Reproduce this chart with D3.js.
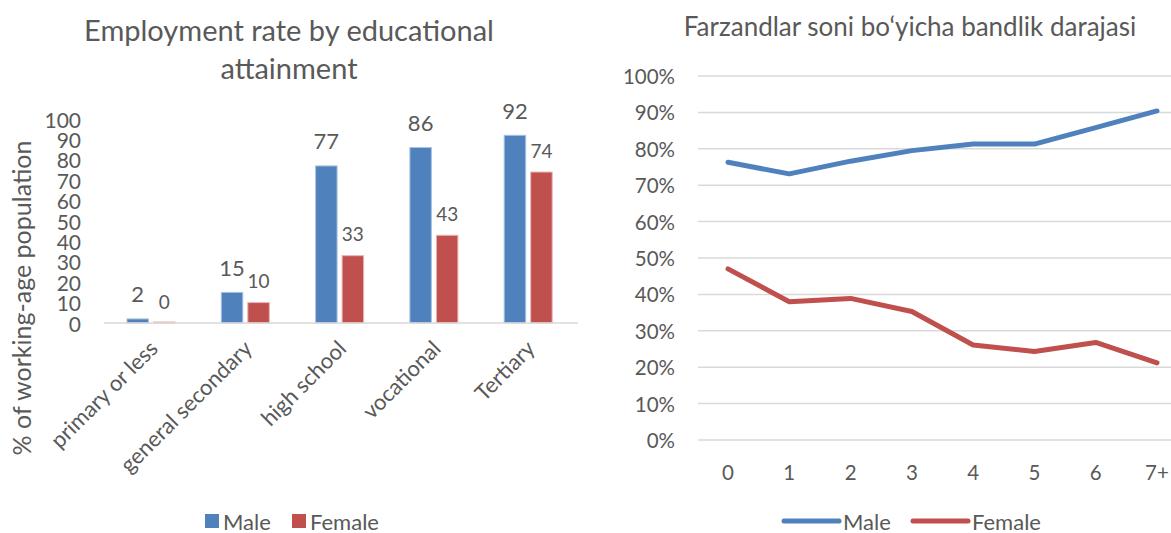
<!DOCTYPE html>
<head>
  <meta charset="utf-8">
  <script src="https://d3js.org/d3.v7.min.js"></script>
  <style>
    body { margin: 0; background: #fff; }
    text { font-family: Lato, "Open Sans", sans-serif; fill: #595959; }
  </style>
</head>
<body>
  <div class="chart"></div>
  <script>
    // left chart: employment by education
    var eduCats = ["primary or less", "general secondary", "high school", "vocational", "Tertiary"];
    var eduMale = [2, 15, 77, 86, 92];
    var eduFemale = [0, 10, 33, 43, 74];
    var eduTicks = [0, 10, 20, 30, 40, 50, 60, 70, 80, 90, 100];

    // right chart: employment by number of children
    var kidCats = ["0", "1", "2", "3", "4", "5", "6", "7+"];
    var kidMale = [0.763, 0.731, 0.766, 0.795, 0.813, 0.813, 0.858, 0.904];
    var kidFemale = [0.470, 0.380, 0.389, 0.353, 0.261, 0.243, 0.268, 0.212];
    var pctTicks = [0, 0.1, 0.2, 0.3, 0.4, 0.5, 0.6, 0.7, 0.8, 0.9, 1];

    var series = ["Male", "Female"];
    var colors = { Male: "#4F81BD", Female: "#C0504D" };

    (function() {
      var svg = d3.select(".chart")
        .append("svg")
        .attr("width", 1171)
        .attr("height", 533);

      // ---------- left: bars ----------
      var left = svg.append("g");

      left.append("text")
        .attr("x", 289).attr("y", 29)
        .attr("text-anchor", "middle").attr("dominant-baseline", "central")
        .style("font-size", "29px")
        .text("Employment rate by educational");
      left.append("text")
        .attr("x", 289).attr("y", 67)
        .attr("text-anchor", "middle").attr("dominant-baseline", "central")
        .style("font-size", "29px")
        .text("attainment");

      var x0 = d3.scaleBand().domain(eduCats).range([104, 575.5]);
      var x1 = d3.scaleBand().domain(series).range([23, 71]).paddingInner(0.19);
      var y = d3.scaleLinear().domain([0, 100]).range([323, 119]);

      left.selectAll(".ytick")
        .data(eduTicks)
        .enter().append("text")
        .attr("class", "ytick")
        .attr("x", 81)
        .attr("y", function(d) { return y(d) })
        .attr("text-anchor", "end")
        .attr("dominant-baseline", "central")
        .style("font-size", "21px")
        .text(function(d) { return d });

      left.append("text")
        .attr("transform", "translate(21,298) rotate(-90)")
        .attr("text-anchor", "middle")
        .attr("dominant-baseline", "central")
        .style("font-size", "25px")
        .text("% of working-age population");

      var rows = eduCats.map(function(c, i) {
        return { cat: c, Male: eduMale[i], Female: eduFemale[i] };
      });

      var groups = left.selectAll(".grp")
        .data(rows)
        .enter().append("g")
        .attr("class", "grp")
        .attr("transform", function(d) { return "translate(" + x0(d.cat) + ",0)" });

      groups.selectAll("rect")
        .data(function(d) { return series.map(function(s) { return { s: s, v: d[s] } }) })
        .enter().append("rect")
        .attr("x", function(d) { return x1(d.s) })
        .attr("width", x1.bandwidth())
        .attr("y", function(d) { return Math.min(y(d.v), y(0) - 1) })
        .attr("height", function(d) { return Math.max(y(0) - y(d.v), 1) })
        .attr("fill", function(d) { return d.v === 0 ? "#F2DCDB" : colors[d.s] })
        .attr("stroke", function(d) { return d.s === "Male" ? "#A9C0E0" : "#E6B3B2" })
        .attr("stroke-width", 1);

      groups.selectAll(".val")
        .data(function(d) { return series.map(function(s) { return { s: s, v: d[s] } }) })
        .enter().append("text")
        .attr("class", "val")
        .attr("x", function(d) { return x1(d.s) + x1.bandwidth() / 2 })
        .attr("y", function(d) { return y(d.v) - (d.s === "Male" ? 25 : 22) })
        .attr("text-anchor", "middle")
        .attr("dominant-baseline", "central")
        .style("font-size", function(d) { return d.s === "Male" ? "22px" : "19px" })
        .text(function(d) { return d.v });

      left.append("line")
        .attr("x1", 104).attr("x2", 578)
        .attr("y1", y(0)).attr("y2", y(0))
        .attr("stroke", "#D9D9D9").attr("stroke-width", 1.5);

      left.selectAll(".xlab")
        .data(eduCats)
        .enter().append("text")
        .attr("class", "xlab")
        .attr("transform", function(d) {
          return "translate(" + (x0(d) + x0.bandwidth() / 2 + 2) + ",344) rotate(-45)"
        })
        .attr("text-anchor", "end")
        .attr("dominant-baseline", "central")
        .style("font-size", "22px")
        .text(function(d) { return d });

      var lleg = left.selectAll(".lleg")
        .data(series)
        .enter().append("g")
        .attr("class", "lleg")
        .attr("transform", function(d, i) { return "translate(" + (i === 0 ? 205 : 292) + ",521)" });
      lleg.append("rect")
        .attr("x", 0).attr("y", -7).attr("width", 14).attr("height", 14)
        .attr("fill", function(d) { return colors[d] });
      lleg.append("text")
        .attr("x", 18).attr("y", 0)
        .attr("dominant-baseline", "central")
        .style("font-size", "22px")
        .text(function(d) { return d });

      // ---------- right: lines ----------
      var right = svg.append("g");

      right.append("text")
        .attr("x", 910).attr("y", 26)
        .attr("text-anchor", "middle").attr("dominant-baseline", "central")
        .style("font-size", "26px")
        .text("Farzandlar soni bo\u2018yicha bandlik darajasi");

      var xr = d3.scalePoint().domain(kidCats).range([728, 1157]);
      var yr = d3.scaleLinear().domain([0, 1]).range([440, 76]);

      right.selectAll(".grid")
        .data(pctTicks)
        .enter().append("line")
        .attr("class", "grid")
        .attr("x1", 698).attr("x2", 1171)
        .attr("y1", function(d) { return yr(d) })
        .attr("y2", function(d) { return yr(d) })
        .attr("stroke", "#D9D9D9").attr("stroke-width", 1.5);

      right.selectAll(".ytick")
        .data(pctTicks)
        .enter().append("text")
        .attr("class", "ytick")
        .attr("x", 675)
        .attr("y", function(d) { return yr(d) })
        .attr("text-anchor", "end")
        .attr("dominant-baseline", "central")
        .style("font-size", "20.5px")
        .text(d3.format(".0%"));

      right.selectAll(".xtick")
        .data(kidCats)
        .enter().append("text")
        .attr("class", "xtick")
        .attr("x", function(d) { return xr(d) })
        .attr("y", 472)
        .attr("text-anchor", "middle")
        .attr("dominant-baseline", "central")
        .style("font-size", "20.5px")
        .text(function(d) { return d });

      var line = d3.line()
        .x(function(d, i) { return xr(kidCats[i]) })
        .y(function(d) { return yr(d) });

      [["Male", kidMale], ["Female", kidFemale]].forEach(function(p) {
        right.append("path")
          .datum(p[1])
          .attr("d", line)
          .attr("fill", "none")
          .attr("stroke", colors[p[0]])
          .attr("stroke-width", 5)
          .attr("stroke-linecap", "round")
          .attr("stroke-linejoin", "round");
      });

      var rleg = right.selectAll(".rleg")
        .data(series)
        .enter().append("g")
        .attr("class", "rleg")
        .attr("transform", function(d, i) { return "translate(" + (i === 0 ? 784 : 913) + ",521)" });
      rleg.append("line")
        .attr("x1", 0).attr("x2", 55)
        .attr("stroke", function(d) { return colors[d] })
        .attr("stroke-width", 5)
        .attr("stroke-linecap", "round");
      rleg.append("text")
        .attr("x", 59).attr("y", 0)
        .attr("dominant-baseline", "central")
        .style("font-size", "22px")
        .text(function(d) { return d });
    })();
  </script>
</body>
